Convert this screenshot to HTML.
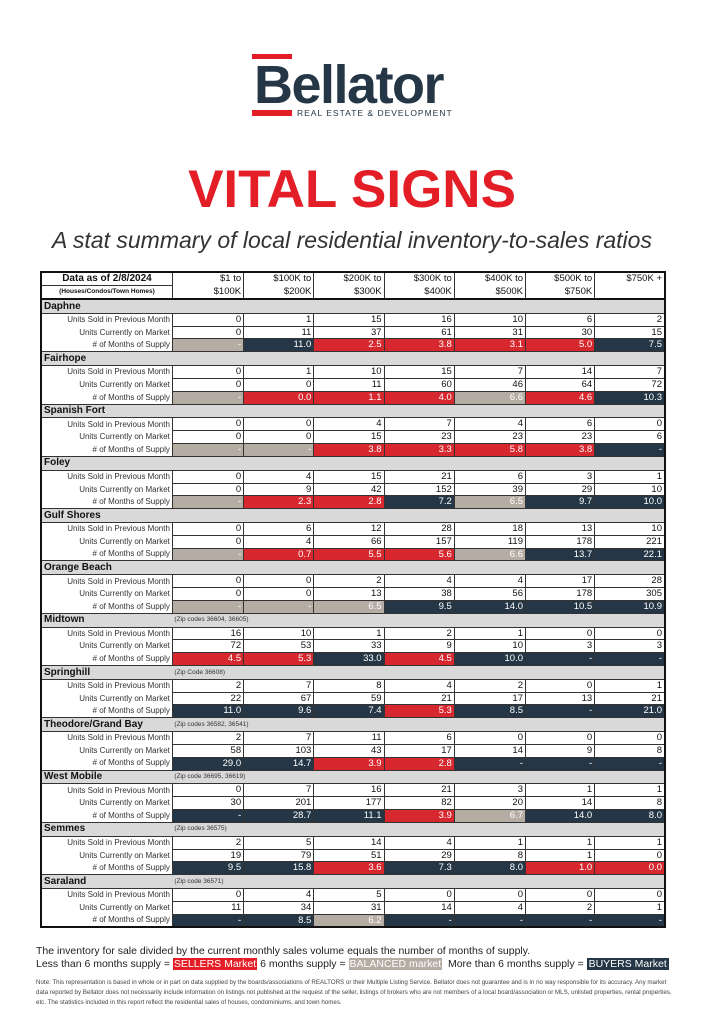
<!DOCTYPE html>
<html><head><meta charset="utf-8"><style>
body{margin:0;width:704px;height:1024px;background:#fff;position:relative;font-family:"Liberation Sans",sans-serif;overflow:hidden}
.abs{position:absolute}
table{position:absolute;left:40px;top:271px;width:626px;border-collapse:collapse;border:2px solid #111;table-layout:fixed}
td{padding:0 2px;height:11.8px;font-size:9.5px;line-height:11.8px;text-align:right;border:1px solid #333;color:#111;white-space:nowrap;overflow:hidden}
td.l{font-size:8px;color:#333;border:none;border-right:1px solid #333}
tr.s td{background:#d9d9d9;text-align:left;font-weight:bold;font-size:10px;border-left:none;border-right:none;height:12.9px}
tr.s td.z{font-weight:normal;font-size:6.5px;color:#333}
.r{background:#d7282f;color:#fff}
.n{background:#253746;color:#fff}
.t{background:#b5aca3;color:#fff}
tr.h td{border:none;height:12px;font-size:9.5px}
tr.h td.hl{text-align:center;border-right:1px solid #333}
tr.h td.c{border-right:1px solid #333}
</style></head><body>
<div class="abs" style="left:252px;top:54px;width:40px;height:5px;background:#e31e26"></div>
<div class="abs" style="left:254px;top:55px;font-size:54px;font-weight:bold;color:#253746;letter-spacing:-1.5px;line-height:60px">Bellator</div>
<div class="abs" style="left:252px;top:110px;width:40px;height:6px;background:#e31e26"></div>
<div class="abs" style="left:297px;top:108px;font-size:8.5px;color:#253746;letter-spacing:1px">REAL ESTATE &amp; DEVELOPMENT</div>
<div class="abs" style="left:0;width:704px;top:162px;text-align:center;font-size:53px;font-weight:bold;color:#e31e26;line-height:56px">VITAL SIGNS</div>
<div class="abs" style="left:0;width:704px;top:227px;text-align:center;font-size:23px;font-style:italic;color:#333">A stat summary of local residential inventory-to-sales ratios</div>
<table>
<colgroup><col style="width:131px"><col style="width:71px"><col style="width:70px"><col style="width:70px"><col style="width:70px"><col style="width:71px"><col style="width:69px"><col style="width:70px"></colgroup>
<tr class="h"><td class="hl" style="font-weight:bold;font-size:10px;border-bottom:1px solid #333">Data as of 2/8/2024</td><td class="c">$1 to</td><td class="c">$100K to</td><td class="c">$200K to</td><td class="c">$300K to</td><td class="c">$400K to</td><td class="c">$500K to</td><td>$750K +</td></tr>
<tr class="h" style="border-bottom:2px solid #111"><td class="hl" style="font-size:6.5px;font-weight:bold">(Houses/Condos/Town Homes)</td><td class="c">$100K</td><td class="c">$200K</td><td class="c">$300K</td><td class="c">$400K</td><td class="c">$500K</td><td class="c">$750K</td><td></td></tr>
<tr class="s"><td colspan="8">Daphne</td></tr>
<tr><td class="l">Units Sold in Previous Month</td><td>0</td><td>1</td><td>15</td><td>16</td><td>10</td><td>6</td><td>2</td></tr>
<tr><td class="l">Units Currently on Market</td><td>0</td><td>11</td><td>37</td><td>61</td><td>31</td><td>30</td><td>15</td></tr>
<tr><td class="l"># of Months of Supply</td><td class="t">-</td><td class="n">11.0</td><td class="r">2.5</td><td class="r">3.8</td><td class="r">3.1</td><td class="r">5.0</td><td class="n">7.5</td></tr>
<tr class="s"><td colspan="8">Fairhope</td></tr>
<tr><td class="l">Units Sold in Previous Month</td><td>0</td><td>1</td><td>10</td><td>15</td><td>7</td><td>14</td><td>7</td></tr>
<tr><td class="l">Units Currently on Market</td><td>0</td><td>0</td><td>11</td><td>60</td><td>46</td><td>64</td><td>72</td></tr>
<tr><td class="l"># of Months of Supply</td><td class="t">-</td><td class="r">0.0</td><td class="r">1.1</td><td class="r">4.0</td><td class="t">6.6</td><td class="r">4.6</td><td class="n">10.3</td></tr>
<tr class="s"><td colspan="8">Spanish Fort</td></tr>
<tr><td class="l">Units Sold in Previous Month</td><td>0</td><td>0</td><td>4</td><td>7</td><td>4</td><td>6</td><td>0</td></tr>
<tr><td class="l">Units Currently on Market</td><td>0</td><td>0</td><td>15</td><td>23</td><td>23</td><td>23</td><td>6</td></tr>
<tr><td class="l"># of Months of Supply</td><td class="t">-</td><td class="t">-</td><td class="r">3.8</td><td class="r">3.3</td><td class="r">5.8</td><td class="r">3.8</td><td class="n">-</td></tr>
<tr class="s"><td colspan="8">Foley</td></tr>
<tr><td class="l">Units Sold in Previous Month</td><td>0</td><td>4</td><td>15</td><td>21</td><td>6</td><td>3</td><td>1</td></tr>
<tr><td class="l">Units Currently on Market</td><td>0</td><td>9</td><td>42</td><td>152</td><td>39</td><td>29</td><td>10</td></tr>
<tr><td class="l"># of Months of Supply</td><td class="t">-</td><td class="r">2.3</td><td class="r">2.8</td><td class="n">7.2</td><td class="t">6.5</td><td class="n">9.7</td><td class="n">10.0</td></tr>
<tr class="s"><td colspan="8">Gulf Shores</td></tr>
<tr><td class="l">Units Sold in Previous Month</td><td>0</td><td>6</td><td>12</td><td>28</td><td>18</td><td>13</td><td>10</td></tr>
<tr><td class="l">Units Currently on Market</td><td>0</td><td>4</td><td>66</td><td>157</td><td>119</td><td>178</td><td>221</td></tr>
<tr><td class="l"># of Months of Supply</td><td class="t">-</td><td class="r">0.7</td><td class="r">5.5</td><td class="r">5.6</td><td class="t">6.6</td><td class="n">13.7</td><td class="n">22.1</td></tr>
<tr class="s"><td colspan="8">Orange Beach</td></tr>
<tr><td class="l">Units Sold in Previous Month</td><td>0</td><td>0</td><td>2</td><td>4</td><td>4</td><td>17</td><td>28</td></tr>
<tr><td class="l">Units Currently on Market</td><td>0</td><td>0</td><td>13</td><td>38</td><td>56</td><td>178</td><td>305</td></tr>
<tr><td class="l"># of Months of Supply</td><td class="t">-</td><td class="t">-</td><td class="t">6.5</td><td class="n">9.5</td><td class="n">14.0</td><td class="n">10.5</td><td class="n">10.9</td></tr>
<tr class="s"><td>Midtown</td><td class="z" colspan="7">(Zip codes 36604, 36605)</td></tr>
<tr><td class="l">Units Sold in Previous Month</td><td>16</td><td>10</td><td>1</td><td>2</td><td>1</td><td>0</td><td>0</td></tr>
<tr><td class="l">Units Currently on Market</td><td>72</td><td>53</td><td>33</td><td>9</td><td>10</td><td>3</td><td>3</td></tr>
<tr><td class="l"># of Months of Supply</td><td class="r">4.5</td><td class="r">5.3</td><td class="n">33.0</td><td class="r">4.5</td><td class="n">10.0</td><td class="n">-</td><td class="n">-</td></tr>
<tr class="s"><td>Springhill</td><td class="z" colspan="7">(Zip Code 36608)</td></tr>
<tr><td class="l">Units Sold in Previous Month</td><td>2</td><td>7</td><td>8</td><td>4</td><td>2</td><td>0</td><td>1</td></tr>
<tr><td class="l">Units Currently on Market</td><td>22</td><td>67</td><td>59</td><td>21</td><td>17</td><td>13</td><td>21</td></tr>
<tr><td class="l"># of Months of Supply</td><td class="n">11.0</td><td class="n">9.6</td><td class="n">7.4</td><td class="r">5.3</td><td class="n">8.5</td><td class="n">-</td><td class="n">21.0</td></tr>
<tr class="s"><td>Theodore/Grand Bay</td><td class="z" colspan="7">(Zip codes 36582, 36541)</td></tr>
<tr><td class="l">Units Sold in Previous Month</td><td>2</td><td>7</td><td>11</td><td>6</td><td>0</td><td>0</td><td>0</td></tr>
<tr><td class="l">Units Currently on Market</td><td>58</td><td>103</td><td>43</td><td>17</td><td>14</td><td>9</td><td>8</td></tr>
<tr><td class="l"># of Months of Supply</td><td class="n">29.0</td><td class="n">14.7</td><td class="r">3.9</td><td class="r">2.8</td><td class="n">-</td><td class="n">-</td><td class="n">-</td></tr>
<tr class="s"><td>West Mobile</td><td class="z" colspan="7">(Zip code 36695, 36619)</td></tr>
<tr><td class="l">Units Sold in Previous Month</td><td>0</td><td>7</td><td>16</td><td>21</td><td>3</td><td>1</td><td>1</td></tr>
<tr><td class="l">Units Currently on Market</td><td>30</td><td>201</td><td>177</td><td>82</td><td>20</td><td>14</td><td>8</td></tr>
<tr><td class="l"># of Months of Supply</td><td class="n">-</td><td class="n">28.7</td><td class="n">11.1</td><td class="r">3.9</td><td class="t">6.7</td><td class="n">14.0</td><td class="n">8.0</td></tr>
<tr class="s"><td>Semmes</td><td class="z" colspan="7">(Zip codes 36575)</td></tr>
<tr><td class="l">Units Sold in Previous Month</td><td>2</td><td>5</td><td>14</td><td>4</td><td>1</td><td>1</td><td>1</td></tr>
<tr><td class="l">Units Currently on Market</td><td>19</td><td>79</td><td>51</td><td>29</td><td>8</td><td>1</td><td>0</td></tr>
<tr><td class="l"># of Months of Supply</td><td class="n">9.5</td><td class="n">15.8</td><td class="r">3.6</td><td class="n">7.3</td><td class="n">8.0</td><td class="r">1.0</td><td class="r">0.0</td></tr>
<tr class="s"><td>Saraland</td><td class="z" colspan="7">(Zip code 36571)</td></tr>
<tr><td class="l">Units Sold in Previous Month</td><td>0</td><td>4</td><td>5</td><td>0</td><td>0</td><td>0</td><td>0</td></tr>
<tr><td class="l">Units Currently on Market</td><td>11</td><td>34</td><td>31</td><td>14</td><td>4</td><td>2</td><td>1</td></tr>
<tr><td class="l"># of Months of Supply</td><td class="n">-</td><td class="n">8.5</td><td class="t">6.2</td><td class="n">-</td><td class="n">-</td><td class="n">-</td><td class="n">-</td></tr>
</table>
<div class="abs" style="left:36px;top:945px;font-size:10.5px;color:#222;line-height:13px">The inventory for sale divided by the current monthly sales volume equals the number of months of supply.<br>Less than 6 months supply = <span style="background:#e31e26;color:#fff;padding:0 1px">SELLERS Market</span> 6 months supply = <span style="background:#b5aca3;color:#fff;padding:0 1px">BALANCED market</span>&nbsp; More than 6 months supply = <span style="background:#253746;color:#fff;padding:0 2px">BUYERS Market</span></div>
<div class="abs" style="left:36px;top:978px;width:640px;font-size:6.2px;color:#444;line-height:10px">Note: This representation is based in whole or in part on data supplied by the boards/associations of REALTORS or their Multiple Listing Service. Bellator does not guarantee and is in no way responsible for its accuracy. Any market data reported by Bellator does not necessarily include information on listings not published at the request of the seller, listings of brokers who are not members of a local board/association or MLS, unlisted properties, rental properties, etc. The statistics included in this report reflect the residential sales of houses, condominiums, and town homes.</div>
</body></html>
